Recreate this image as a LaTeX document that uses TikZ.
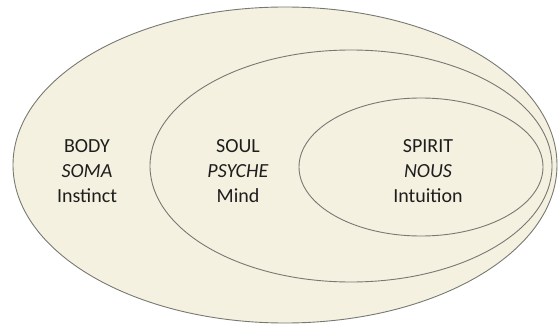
\documentclass[tikz,border=0pt]{standalone}
\usepackage{fontspec}
\setmainfont{Carlito}
\definecolor{cream}{RGB}{245,241,224}
\definecolor{rim}{RGB}{120,120,115}
\definecolor{ink}{RGB}{30,30,30}
\begin{document}
\begin{tikzpicture}[x=1pt,y=-1pt,
  layer/.style={draw=rim,line width=0.9pt,fill=cream},
  label/.style={align=center,text=ink,font=\fontsize{20}{25}\selectfont,inner sep=0pt}]
\useasboundingbox (0,0) rectangle (559,326);
% nested ellipses: body, soul, spirit
\draw[layer] (285,165) ellipse [x radius=272, y radius=158];
\draw[layer] (351,166) ellipse [x radius=201, y radius=116];
\draw[layer] (421,167) ellipse [x radius=122, y radius=69];
% labels
\node[label] (body) at (87,171) {BODY\\\textit{SOMA}\\Instinct};
\node[label] (soul) at (238,171) {SOUL\\\textit{PSYCHE}\\Mind};
\node[label] (spirit) at (428,171) {SPIRIT\\\textit{NOUS}\\Intuition};
\end{tikzpicture}
\end{document}
